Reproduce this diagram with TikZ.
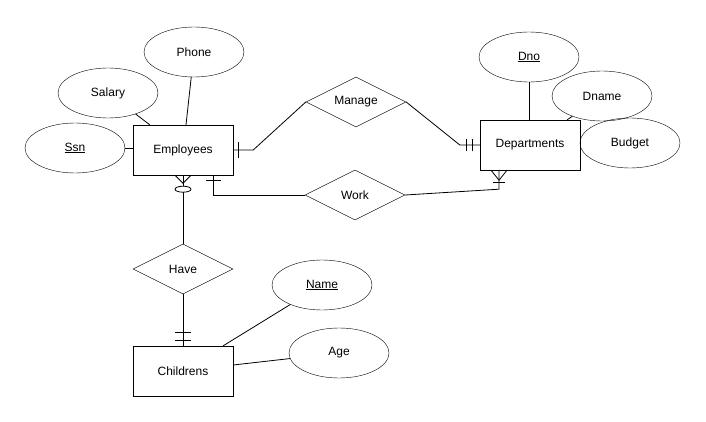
\documentclass[tikz,border=0pt]{standalone}
\usepackage{fontspec}
\setmainfont{Liberation Sans}
\usetikzlibrary{shapes.geometric}
\begin{document}
\begin{tikzpicture}[x=1pt,y=-1pt,
  every node/.style={font=\fontsize{12}{14}\selectfont},
  entity/.style={draw,rectangle,minimum width=100pt,minimum height=50pt,inner sep=0pt},
  attr/.style={draw,ellipse,minimum width=100pt,minimum height=50pt,inner sep=0pt},
  rel/.style={draw,diamond,aspect=2,minimum width=100pt,minimum height=50pt,inner sep=0pt},
  conn/.style={draw,line width=0.8pt}]
\useasboundingbox (0,0) rectangle (706,422);
\fill[white] (0,0) rectangle (706,422);
% entities
\node[entity] (emp) at (183,150) {Employees};
\node[entity] (dept) at (530,145) {Departments};
\node[entity] (child) at (183,371) {Childrens};
% attributes
\node[attr] (phone) at (194,52) {Phone};
\node[attr] (salary) at (108,93) {Salary};
\node[attr] (ssn) at (75,148) {\underline{Ssn}};
\node[attr] (dno) at (529,57) {\underline{Dno}};
\node[attr] (dname) at (602,96) {Dname};
\node[attr] (budget) at (630,143) {Budget};
\node[attr] (name) at (322,285) {\underline{Name}};
\node[attr] (age) at (339,353) {Age};
% relationships
\node[rel] (manage) at (356,102) {Manage};
\node[rel] (work) at (355,195) {Work};
\node[rel] (have) at (183,269) {Have};
% attribute links
\draw[conn] (salary) -- ([shift={(17,0)}]emp.north west);
\draw[conn] (phone) -- ([shift={(3,0)}]emp.north);
\draw[conn] (ssn.east) -- (emp.west |- ssn.east);
\draw[conn] (dno) -- (dno |- dept.north);
\draw[conn] (dname) -- ([shift={(-13,0)}]dept.north east);
\draw[conn] (name) -- ([shift={(-10,0)}]child.north east);
\draw[conn] (age) -- ([shift={(0,-6)}]child.east);
% Employees -- Manage
\draw[conn] (emp.east) -- ([shift={(20,0)}]emp.east) -- (manage.west);
\draw[conn] ([shift={(5,-8)}]emp.east) -- ([shift={(5,8)}]emp.east);
% Manage -- Departments
\draw[conn] (manage.east) -- ([shift={(-20,0)}]dept.west) -- (dept.west);
\draw[conn] ([shift={(-13,-6)}]dept.west) -- ([shift={(-13,6)}]dept.west);
\draw[conn] ([shift={(-7,-6)}]dept.west) -- ([shift={(-7,6)}]dept.west);
% Employees -- Work
\draw[conn] ([shift={(30,0)}]emp.south) |- (work.west);
\draw[conn] ([shift={(23,5)}]emp.south) -- ([shift={(38,5)}]emp.south);
% Work -- Departments
\draw[conn] (work.east) -- ([shift={(-31,19)}]dept.south) -- ([shift={(-31,0)}]dept.south);
\draw[conn] ([shift={(-39,0)}]dept.south) -- ([shift={(-31,10)}]dept.south) -- ([shift={(-23,0)}]dept.south);
\draw[conn] ([shift={(-37,12)}]dept.south) -- ([shift={(-25,12)}]dept.south);
% Employees -- Have
\draw[conn] (emp.south) -- (have.north);
\draw[conn] ([shift={(-8,0)}]emp.south) -- ([shift={(0,8)}]emp.south) -- ([shift={(8,0)}]emp.south);
\draw[conn,fill=white] ([shift={(0,14)}]emp.south) ellipse [x radius=8pt,y radius=3pt];
% Have -- Childrens
\draw[conn] (have.south) -- (child.north);
\draw[conn] ([shift={(-8,-13)}]child.north) -- ([shift={(8,-13)}]child.north);
\draw[conn] ([shift={(-8,-5)}]child.north) -- ([shift={(8,-5)}]child.north);
\end{tikzpicture}
\end{document}
